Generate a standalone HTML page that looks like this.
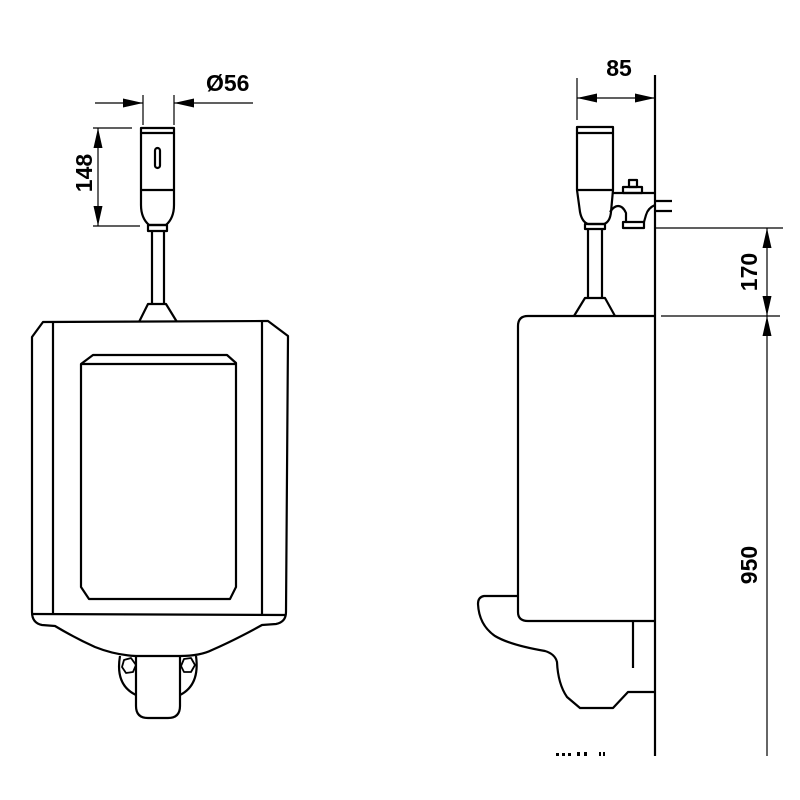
<!DOCTYPE html>
<html><head><style>html,body{margin:0;padding:0;background:#fff}svg{display:block}</style></head><body>
<svg width="800" height="800" viewBox="0 0 800 800" xmlns="http://www.w3.org/2000/svg">
<defs>
<marker id="a" viewBox="0 0 20 10" refX="20" refY="5" markerWidth="20" markerHeight="10" markerUnits="userSpaceOnUse" orient="auto-start-reverse"><path d="M0,0.5 L20,5 L0,9.5 z" fill="#000"/></marker>
</defs>
<g fill="none" stroke="#000" stroke-width="2.2" stroke-linejoin="round">
<path d="M43,322 L268,321 L288,336 L286,612 Q286,622 276,624 L262,625 Q235,640 212,650 Q200,656 180,656 L136,656 Q115,655 95,647 Q75,638 55,626 L42,625 Q32,623 32,612 L32,337 Z"/>
<line x1="53" y1="322" x2="53" y2="614"/>
<line x1="262" y1="321" x2="262" y2="614"/>
<line x1="32" y1="614" x2="286" y2="615"/>
<path d="M81,364 L93,355 L227,355 L236,363 L236,587 L230,599 L89,599 L81,587 Z"/>
<line x1="81" y1="364" x2="236" y2="364"/>
<path d="M120,656 Q115,685 136,695"/>
<path d="M196,656 Q200,685 180,695"/>
<path d="M136,657 L136,706 Q136,718 148,718 L168,718 Q180,718 180,706 L180,657"/>
<path d="M124,660 L131,658 L136,665 L133,672 L126,673 L122,667 Z" stroke-width="1.8"/>
<path d="M184,659 L191,658 L195,665 L191,672 L184,672 L181,666 Z" stroke-width="1.8"/>
<rect x="141" y="128" width="33" height="5"/>
<path d="M141,133 L141,205 Q141,218 149,225 L166,225 Q174,218 174,205 L174,133"/>
<line x1="141" y1="190" x2="174" y2="190"/>
<rect x="155" y="148" width="5" height="20" rx="2.5"/>
<rect x="148" y="225" width="19" height="6"/>
<line x1="152" y1="231" x2="152" y2="303"/><line x1="164" y1="231" x2="164" y2="303"/>
<path d="M139,322 L148,304 L166,304 L177,322"/>
</g>
<g stroke="#000" stroke-width="1.2" fill="none">
<line x1="143" y1="95" x2="143" y2="125"/><line x1="174" y1="95" x2="174" y2="125"/>
<line x1="95" y1="103" x2="143" y2="103" marker-end="url(#a)"/>
<line x1="253" y1="103" x2="174" y2="103" marker-end="url(#a)"/>
<line x1="93" y1="128" x2="132" y2="128"/><line x1="93" y1="226" x2="140" y2="226"/>
<line x1="98" y1="176" x2="98" y2="128" marker-end="url(#a)"/>
<line x1="98" y1="176" x2="98" y2="226" marker-end="url(#a)"/>
</g>
<g font-family="Liberation Sans, sans-serif" font-weight="bold" font-size="23" fill="#000">
<text x="206" y="91">Ø56</text>
<text transform="translate(92,173) rotate(-90)" text-anchor="middle">148</text>
<text x="619" y="76" text-anchor="middle">85</text>
<text transform="translate(757,272) rotate(-90)" text-anchor="middle">170</text>
<text transform="translate(757,565) rotate(-90)" text-anchor="middle">950</text>
</g>
<g fill="none" stroke="#000" stroke-width="2.2" stroke-linejoin="round">
<line x1="655" y1="75" x2="655" y2="756"/>
<rect x="577" y="127" width="36" height="6"/>
<path d="M577,133 L577,190 L580,212 Q582,222 588,224 L604,224 Q610,222 611,212 L613,190 L613,133"/>
<line x1="577" y1="190" x2="613" y2="190"/>
<rect x="585" y="224" width="20" height="5"/>
<line x1="588" y1="229" x2="588" y2="298"/><line x1="602" y1="229" x2="602" y2="298"/>
<path d="M574,316 L585,298 L605,298 L615,316"/>
<path d="M613,193 L655,193"/>
<rect x="623" y="187" width="19" height="6"/>
<rect x="629" y="180" width="8" height="7"/>
<line x1="655" y1="201" x2="672" y2="201"/><line x1="655" y1="211" x2="672" y2="211"/>
<path d="M610,212 Q614,206 618,206 Q623,206 626,213 L626,222"/>
<path d="M655,205 Q648,208 646,215 L644,222"/>
<rect x="623" y="222" width="21" height="6"/>
<path d="M655,316 L528,316 Q518,316 518,326 L518,612 Q518,621 528,621 L655,621"/>
<path d="M518,596 L484,596 Q478,597 478,604 Q479,625 495,636 Q510,645 545,651 Q555,654 557,662 Q558,684 567,697 L580,708 L613,708 L628,692 L655,692"/>
<line x1="633" y1="621" x2="633" y2="668"/>
</g>
<g stroke="#000" stroke-width="1.2" fill="none">
<line x1="577" y1="78" x2="577" y2="120"/>
<line x1="616" y1="98" x2="577" y2="98" marker-end="url(#a)"/>
<line x1="616" y1="98" x2="655" y2="98" marker-end="url(#a)"/>
<line x1="655" y1="228" x2="783" y2="228"/>
<line x1="661" y1="316" x2="780" y2="316"/>
<line x1="767" y1="272" x2="767" y2="228" marker-end="url(#a)"/>
<line x1="767" y1="272" x2="767" y2="316" marker-end="url(#a)"/>
<line x1="767" y1="345" x2="767" y2="316" marker-end="url(#a)"/>
<line x1="767" y1="345" x2="767" y2="756"/>
</g>
<g fill="#000">
<rect x="556" y="753" width="3" height="3"/><rect x="562" y="753" width="3" height="3"/><rect x="568" y="753" width="3" height="3"/><rect x="577" y="752" width="3" height="4"/><rect x="584" y="752" width="3" height="4"/><rect x="599" y="752" width="2" height="4"/><rect x="603" y="752" width="2" height="4"/>
</g>
</svg>
</body></html>
